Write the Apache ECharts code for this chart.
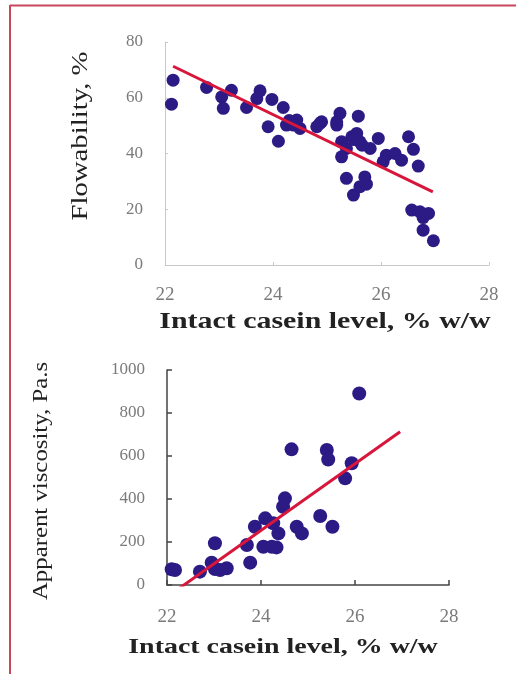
<!DOCTYPE html>
<html>
<head>
<meta charset="utf-8">
<script src="https://cdn.jsdelivr.net/npm/echarts@6/dist/echarts.min.js"></script>
<style>
  html, body { margin: 0; padding: 0; background: #fff; }
  #chart { width: 516px; height: 674px; }
</style>
</head>
<body>
<div id="chart"></div>
<script>
// flowability vs intact casein (top panel)
const flowCasein = [22.15, 22.12, 22.77, 23.05, 23.23, 23.08, 23.51, 23.76, 23.7, 23.98, 24.19, 23.91, 24.1, 24.25,
  24.44, 24.5, 24.81, 24.9, 25.18, 25.24, 25.58, 25.27, 25.46, 25.55, 25.61, 25.36, 25.27, 25.8, 25.95, 25.36,
  25.7, 25.73, 25.49, 25.61, 26.1, 26.26, 26.38, 26.04, 26.51, 26.6, 26.69, 26.57, 26.72, 26.88, 26.78, 26.97,
  26.78, 24.87, 24.38, 24.3, 25.18, 25.5, 25.65];
const flowValues = [66.3, 57.7, 63.7, 60.3, 62.7, 56.2, 56.5, 62.5, 59.7, 59.4, 56.5, 49.6, 44.4, 50.2,
  52, 49, 49.6, 51.4, 50.2, 54.4, 53.4, 44.2, 46, 47.2, 44.2, 41.8, 38.8, 41.8, 45.4, 31.1,
  31.6, 29, 25.1, 28.1, 39.4, 40, 37.6, 37, 46, 41.5, 35.5, 19.7, 19.1, 18.5, 12.5, 8.7,
  17, 50.8, 50.2, 51.8, 51.4, 45, 43];
const flowFitX = [22.15, 26.96];
const flowFitY = [71.3, 26.2];

// apparent viscosity vs intact casein (bottom panel)
const viscCasein = [22.1, 22.7, 22.95, 23.02, 23.13, 23.27, 23.7, 23.77, 23.87, 24.09, 24.05, 24.33, 24.26,
  24.37, 24.51, 24.47, 24.65, 24.76, 24.87, 25.26, 25.4, 25.43, 25.52, 25.79, 25.93, 26.09, 22.17, 23.02, 24.23];
const viscValues = [73, 62, 104, 194, 70, 78, 186, 104, 271, 310, 178, 175, 287,
  240, 403, 364, 631, 271, 240, 321, 628, 584, 271, 496, 566, 891, 70, 74, 178];
const viscFitX = [22.2, 26.96];
const viscFitY = [-25, 713];

const xTicks = [22, 24, 26, 28];
const flowTicks = [0, 20, 40, 60, 80];
const viscTicks = [0, 200, 400, 600, 800, 1000];

const xTitle = 'Intact casein level, % w/w';
const flowTitle = 'Flowability, %';
const viscTitle = 'Apparent viscosity, Pa.s';

const dotColor = '#2c1a85';
const fitColor = '#d8163c';
const serif = '"Liberation Serif", "DejaVu Serif", serif';

function pairs(xs, ys) {
  return xs.map((x, i) => [x, ys[i]]);
}

// the scanned figure is stretched, so titles get a scale along the text
function title(text, x, y, size, stretch, vertical, bold) {
  return {
    type: 'text', x: x, y: y,
    rotation: vertical ? Math.PI / 2 : 0,
    scaleX: stretch, scaleY: 1,
    style: {
      text: text, fill: '#222', font: (bold ? 'bold ' : '') + size + 'px ' + serif,
      align: 'center', verticalAlign: 'middle'
    }
  };
}

const chart = echarts.init(document.getElementById('chart'));

const option = {
  animation: false,
  backgroundColor: '#fff',
  graphic: [
    { type: 'line', shape: { x1: 10, y1: 5, x2: 10, y2: 674 }, style: { stroke: '#c9475a', lineWidth: 2 } },
    { type: 'line', shape: { x1: 10, y1: 5.5, x2: 516, y2: 5.5 }, style: { stroke: '#c9475a', lineWidth: 2 } },
    title(xTitle, 325, 322, 23, 1.3, false, true),
    title(flowTitle, 81, 136, 23, 1.25, true, false),
    title(xTitle, 283, 648, 21, 1.33, false, true),
    title(viscTitle, 42, 481, 20, 1.24, true, false)
  ],
  grid: [
    { left: 165, top: 42, width: 324, height: 223 },
    { left: 167, top: 370, width: 282, height: 215 }
  ],
  xAxis: [
    {
      gridIndex: 0, type: 'value', min: xTicks[0], max: xTicks[xTicks.length - 1], interval: 2,
      axisLine: { lineStyle: { color: '#c8c8c8', width: 1 } },
      axisTick: { inside: true, length: 3, lineStyle: { color: '#c8c8c8' } },
      axisLabel: { fontFamily: serif, fontSize: 19, color: '#7a7a7a', margin: 21 },
      splitLine: { show: false }
    },
    {
      gridIndex: 1, type: 'value', min: xTicks[0], max: xTicks[xTicks.length - 1], interval: 2,
      axisLine: { lineStyle: { color: '#444', width: 1.5 } },
      axisTick: { inside: true, length: 5, lineStyle: { color: '#444', width: 1.5 } },
      axisLabel: { fontFamily: serif, fontSize: 19, color: '#7a7a7a', margin: 23 },
      splitLine: { show: false }
    }
  ],
  yAxis: [
    {
      gridIndex: 0, type: 'value', min: flowTicks[0], max: flowTicks[flowTicks.length - 1], interval: 20,
      axisLine: { show: true, lineStyle: { color: '#c8c8c8', width: 1 } },
      axisTick: { show: true, inside: true, length: 3, lineStyle: { color: '#c8c8c8' } },
      axisLabel: { fontFamily: serif, fontSize: 17, color: '#7a7a7a', margin: 22 },
      splitLine: { show: false }
    },
    {
      gridIndex: 1, type: 'value', min: viscTicks[0], max: viscTicks[viscTicks.length - 1], interval: 200,
      axisLine: { show: true, lineStyle: { color: '#444', width: 1.5 } },
      axisTick: { show: true, inside: true, length: 5, lineStyle: { color: '#444', width: 1.5 } },
      axisLabel: { fontFamily: serif, fontSize: 17, color: '#7a7a7a', margin: 22, formatter: v => String(v) },
      splitLine: { show: false }
    }
  ],
  series: [
    {
      type: 'scatter', xAxisIndex: 0, yAxisIndex: 0,
      symbolSize: 13,
      itemStyle: { color: dotColor, opacity: 1 },
      data: pairs(flowCasein, flowValues)
    },
    {
      type: 'line', xAxisIndex: 0, yAxisIndex: 0,
      showSymbol: false, symbol: 'none',
      lineStyle: { color: fitColor, width: 3 },
      data: pairs(flowFitX, flowFitY)
    },
    {
      type: 'scatter', xAxisIndex: 1, yAxisIndex: 1,
      symbolSize: 14,
      itemStyle: { color: dotColor, opacity: 1 },
      data: pairs(viscCasein, viscValues)
    },
    {
      type: 'line', xAxisIndex: 1, yAxisIndex: 1,
      showSymbol: false, symbol: 'none',
      lineStyle: { color: fitColor, width: 3 },
      data: pairs(viscFitX, viscFitY)
    }
  ]
};

chart.setOption(option);
</script>
</body>
</html>
